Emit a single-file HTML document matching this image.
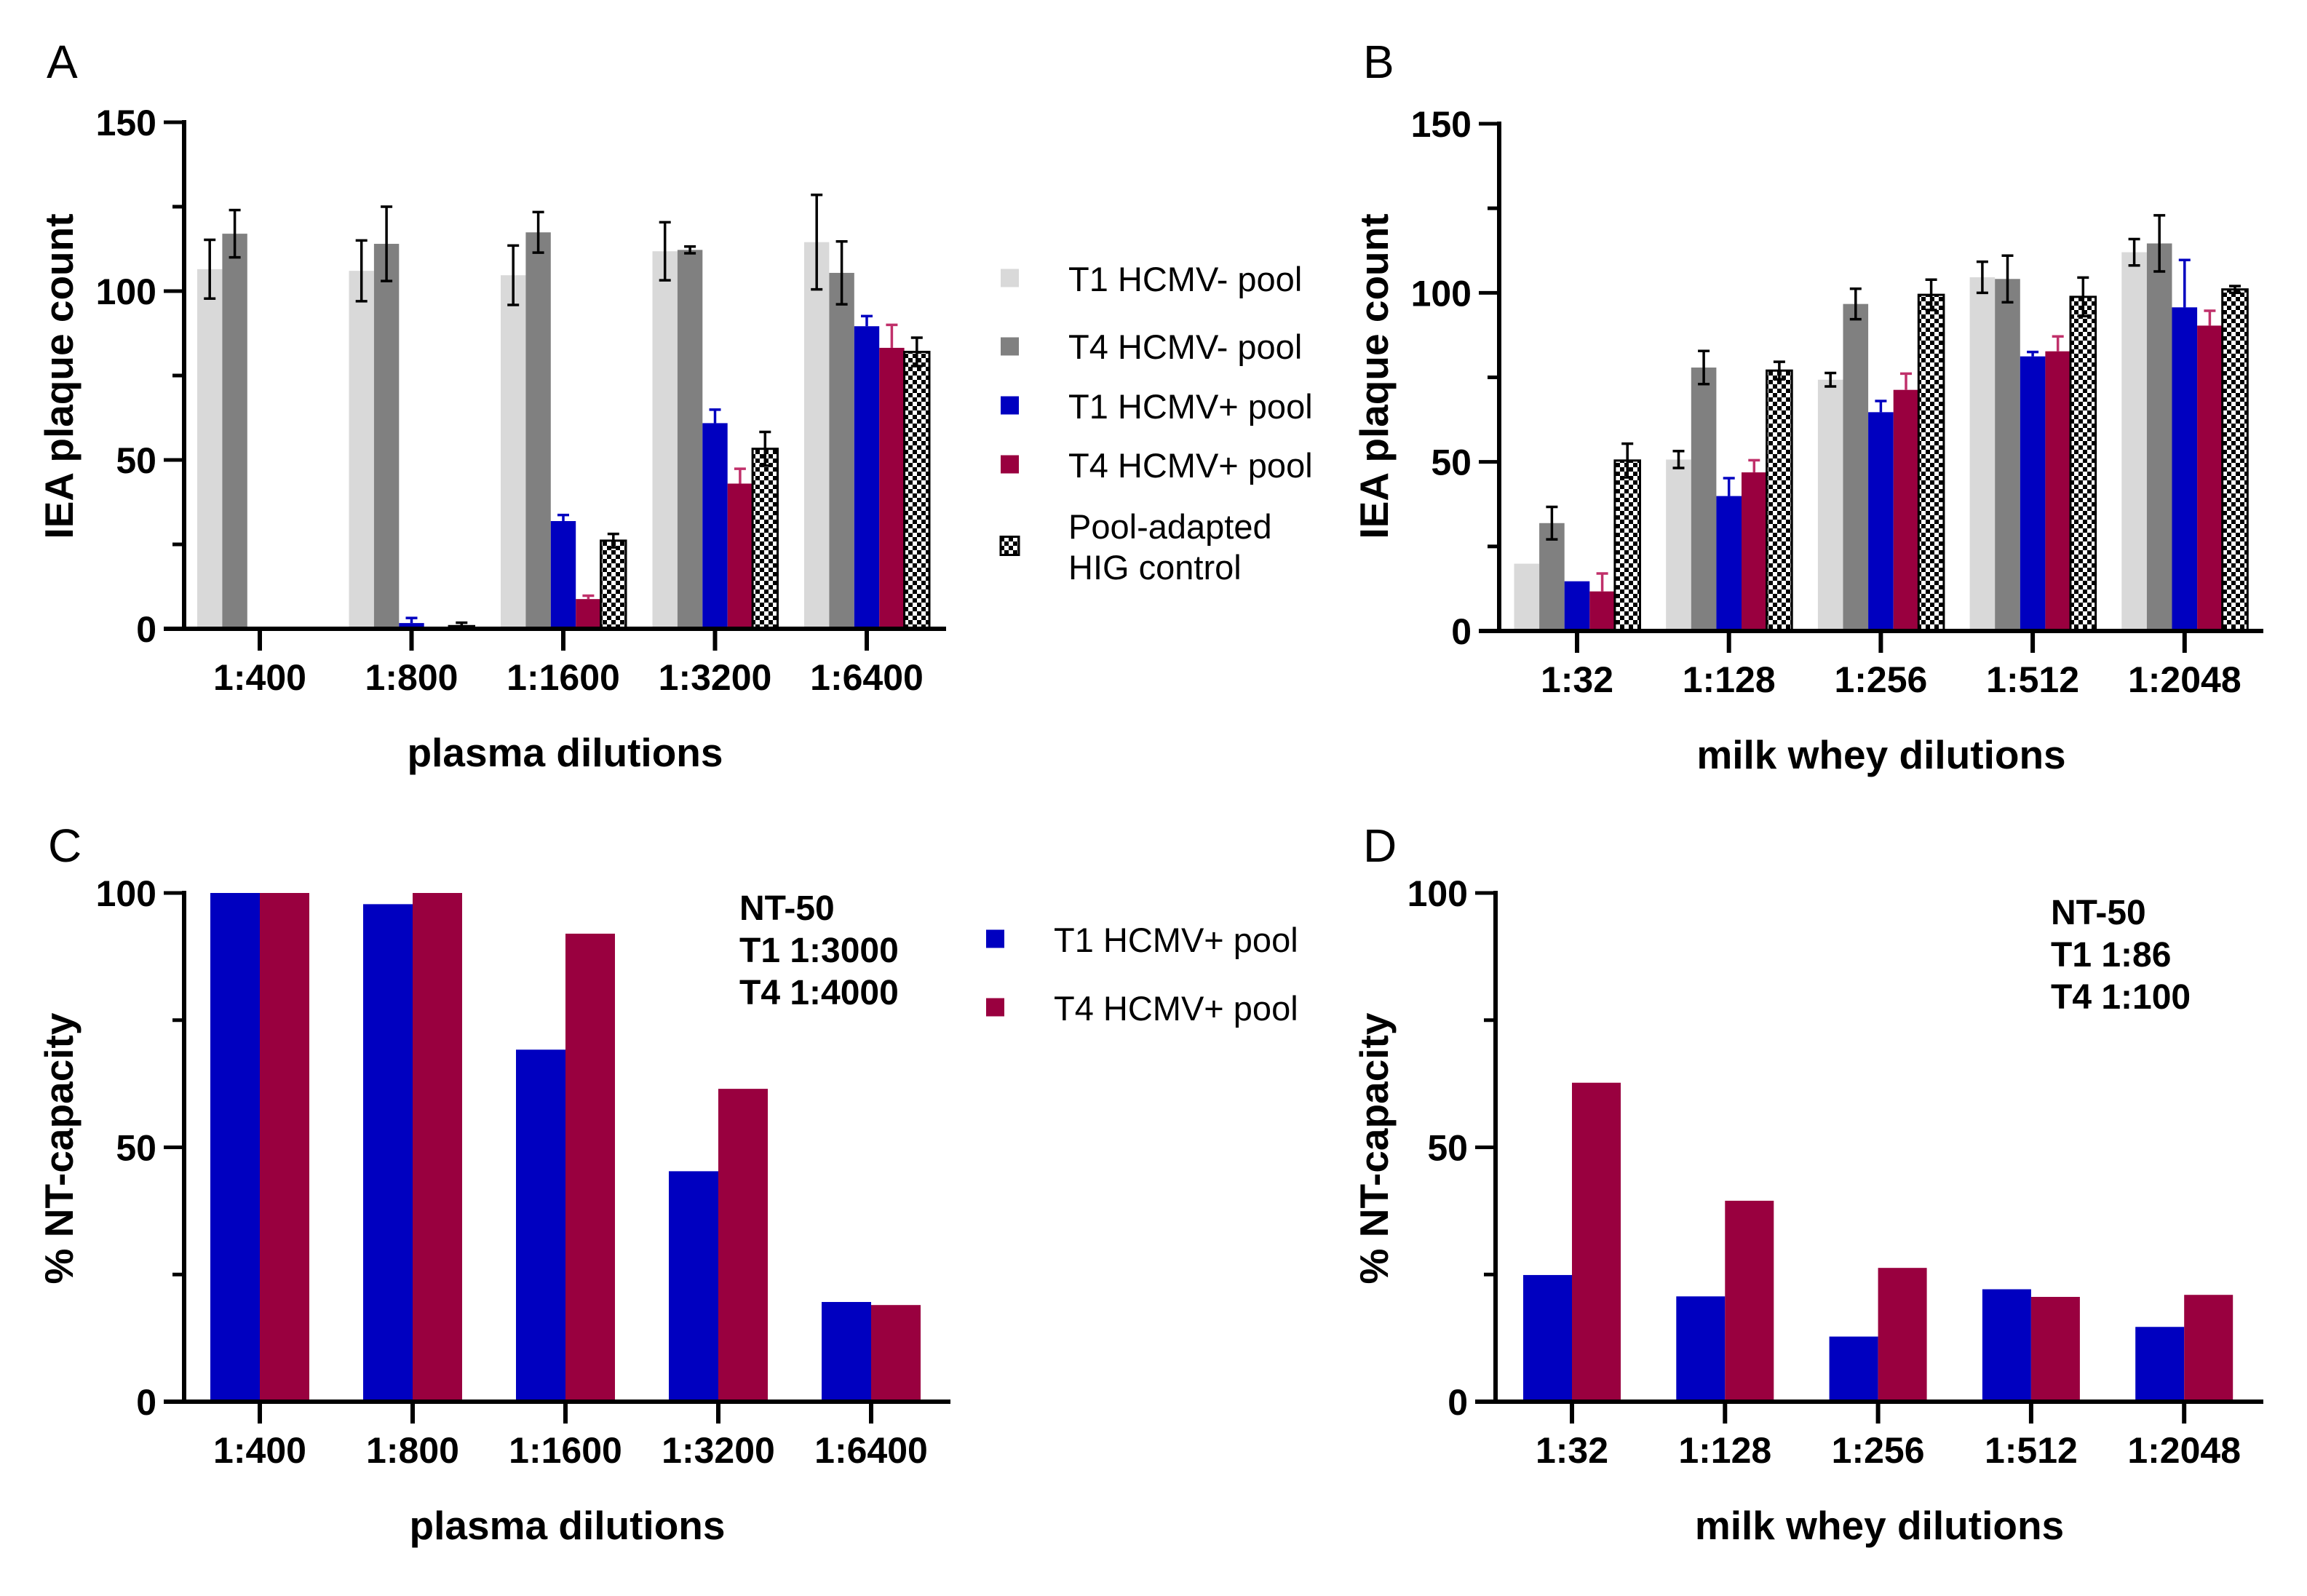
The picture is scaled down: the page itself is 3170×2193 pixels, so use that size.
<!DOCTYPE html>
<html><head><meta charset="utf-8">
<style>
html,body{margin:0;padding:0;background:#fff;}
svg{display:block;font-family:"Liberation Sans",Arial,sans-serif;}
</style></head>
<body>
<svg id="fig" width="3170" height="2193" viewBox="0 0 3170 2193" xmlns="http://www.w3.org/2000/svg">
<defs>
<pattern id="chk" patternUnits="userSpaceOnUse" width="12" height="12">
<rect width="12" height="12" fill="#fff"/>
<rect width="6" height="6" fill="#000"/>
<rect x="6" y="6" width="6" height="6" fill="#000"/>
</pattern>
</defs>
</svg>
<script>
// ---------- data ----------
const catsPlasma = ["1:400","1:800","1:1600","1:3200","1:6400"];
const catsMilk = ["1:32","1:128","1:256","1:512","1:2048"];
const seriesNames = ["T1 HCMV- pool","T4 HCMV- pool","T1 HCMV+ pool","T4 HCMV+ pool","Pool-adapted HIG control"];
// Panel A values
const aT1neg = [106.5,106,104.7,111.8,114.5];
const aT4neg = [117,114,117.4,112.2,105.4];
const aT1pos = [0,1.7,31.9,60.9,89.6];
const aT4pos = [0,0,8.8,43,83.2];
const aHIG = [0,0.8,26.1,53.3,82];
const aT1negErr = [8.7,9,8.8,8.6,14];
const aT4negErr = [7,11,6,1,9.3];
const aT1posErr = [0,1.5,1.8,4,3];
const aT4posErr = [0,0,1,4.4,6.8];
const aHIGErr = [0,1,2,5,4.2];
// Panel B values
const bT1neg = [19.9,50.7,74.3,104.6,112];
const bT4neg = [31.9,77.9,96.7,104.1,114.6];
const bT1pos = [14.7,39.9,64.7,81.2,95.7];
const bT4pos = [11.7,46.9,71.3,82.7,90.3];
const bHIG = [50.4,77,99.4,98.8,101];
const bT1negErr = [0,2.5,2,4.6,3.9];
const bT4negErr = [4.8,4.9,4.5,6.9,8.3];
const bT1posErr = [0,5.3,3.3,1.3,14];
const bT4posErr = [5.3,3.6,4.8,4.4,4.4];
const bHIGErr = [5,2.6,4.5,5.7,1];
// Panel C, D values
const cT1 = [100,97.8,69.2,45.3,19.6];
const cT4 = [100,100,92,61.5,19];
const dT1 = [24.9,20.7,12.8,22.1,14.7];
const dT4 = [62.7,39.5,26.3,20.6,21];
const ticks150 = [0,50,100,150];
const ticks100 = [0,50,100];

const NS="http://www.w3.org/2000/svg";
const svg=document.getElementById('fig');
function mk(tag,attrs,parent){const e=document.createElementNS(NS,tag);for(const k in attrs)e.setAttribute(k,attrs[k]);(parent||svg).appendChild(e);return e;}
function txt(s,attrs,parent){const e=mk('text',attrs,parent);e.textContent=s;return e;}

const COLORS=["#d9d9d9","#808080","#0000c0","#99003f","url(#chk)"];
const ERRC=["#000","#000","#0000c0","#c0306a","#000"];

function panel(o){
  const g=mk('g',{});
  
  
  const y=v=>o.y0-(v/o.ymax)*(o.y0-o.ytop);
  const x=i=>o.c0+i*o.step;
  const L=txt(o.letter,{x:o.lx,y:107,'font-size':64},g);
  if(o.ly) L.setAttribute('y',o.ly);
  
  
  const n=o.series.length;
  for(let s=0;s<n;s++){
    for(let i=0;i<o.cats.length;i++){
      const v=o.series[s][i];
      const bx=x(i)-o.bw*n/2+s*o.bw;
      if(v>0){
        const r=mk('rect',{x:bx,y:y(v),width:o.bw,height:o.y0-y(v),fill:o.colors[s]},g);
        
        
        if(o.colors[s]==='url(#chk)'){r.setAttribute('stroke','#000');r.setAttribute('stroke-width','3');}
      }
      if(o.errs){
        const e=o.errs[s][i];
        if(e>0){
          const cx=bx+o.bw/2;
          const twoSided=(s<2||s===4);
          const top=y(v+e), bot=twoSided?y(v-e):y(v);
          const eg=mk('g',{stroke:ERRC[s],'stroke-width':3.5,fill:'none'},g);
          
          
          mk('line',{x1:cx,x2:cx,y1:top,y2:bot},eg);
          mk('line',{x1:cx-8,x2:cx+8,y1:top,y2:top},eg);
          if(twoSided) mk('line',{x1:cx-8,x2:cx+8,y1:bot,y2:bot},eg);
        }
      }
    }
  }
  const ax=mk('g',{stroke:'#000','stroke-width':6},g);
  
  
  mk('line',{x1:o.ax,x2:o.ax,y1:o.ytop-3,y2:o.y0},ax);
  mk('line',{x1:o.ax-28,x2:o.xend,y1:o.y0,y2:o.y0},ax);
  for(let t=o.minor;t<=o.ymax;t+=o.minor){
    mk('line',{x1:o.ax-( o.ticks.includes(t)?28:16),x2:o.ax,y1:y(t),y2:y(t),'stroke-width':5},ax);
  }
  for(let i=0;i<o.cats.length;i++){
    mk('line',{x1:x(i),x2:x(i),y1:o.y0,y2:o.y0+30,'stroke-width':6},ax);
    const t=txt(o.cats[i],{x:x(i),y:o.y0+84,'text-anchor':'middle','font-size':50,'font-weight':'bold'},g);
    
    
  }
  for(const t of o.ticks){
    const e=txt(String(t),{x:o.ax-38,y:y(t)+18,'text-anchor':'end','font-size':50,'font-weight':'bold'},g);
    
    
  }
  const xt=txt(o.xtitle,{x:(o.ax+o.xend)/2,y:o.y0+189,'text-anchor':'middle','font-size':55,'font-weight':'bold'},g);
  
  
  const yt=txt(o.ytitle,{x:0,y:0,'text-anchor':'middle','font-size':55,'font-weight':'bold',transform:`translate(${o.ytx},${o.yty}) rotate(-90)`},g);
  
  
  if(o.note){
    o.note.forEach((s,k)=>{
      const t=txt(s,{x:o.nx,y:o.ny+k*58,'font-size':48,'font-weight':'bold'},g);
      
      
    });
  }
}

panel({name:'panel-a',letter:'A',lx:64,cats:catsPlasma,series:[aT1neg,aT4neg,aT1pos,aT4pos,aHIG],
  errs:[aT1negErr,aT4negErr,aT1posErr,aT4posErr,aHIGErr],snames:seriesNames,colors:COLORS,
  y0:864,ytop:168,ymax:150,ticks:ticks150,minor:25,ax:253,xend:1300,c0:357,step:208.5,bw:34.4,
  xtitle:'plasma dilutions',ytitle:'IEA plaque count',ytx:100,yty:517});
panel({name:'panel-b',letter:'B',lx:1873,cats:catsMilk,series:[bT1neg,bT4neg,bT1pos,bT4pos,bHIG],
  errs:[bT1negErr,bT4negErr,bT1posErr,bT4posErr,bHIGErr],snames:seriesNames,colors:COLORS,
  y0:867,ytop:170,ymax:150,ticks:ticks150,minor:25,ax:2060,xend:3110,c0:2167,step:208.7,bw:34.6,
  xtitle:'milk whey dilutions',ytitle:'IEA plaque count',ytx:1907,yty:517});
panel({name:'panel-c',letter:'C',lx:66,ly:1184,cats:catsPlasma,series:[cT1,cT4],snames:[seriesNames[2],seriesNames[3]],
  colors:["#0000c0","#99003f"],y0:1926,ytop:1227,ymax:100,ticks:ticks100,minor:25,ax:253,xend:1306,c0:357,step:210,bw:68,
  xtitle:'plasma dilutions',ytitle:'% NT-capacity',ytx:100,yty:1578,note:['NT-50','T1 1:3000','T4 1:4000'],nx:1016,ny:1264});
panel({name:'panel-d',letter:'D',lx:1873,ly:1184,cats:catsMilk,series:[dT1,dT4],snames:[seriesNames[2],seriesNames[3]],
  colors:["#0000c0","#99003f"],y0:1926,ytop:1227,ymax:100,ticks:ticks100,minor:25,ax:2055,xend:3110,c0:2160,step:210.3,bw:67,
  xtitle:'milk whey dilutions',ytitle:'% NT-capacity',ytx:1907,yty:1578,note:['NT-50','T1 1:86','T4 1:100'],nx:2818,ny:1270});

function legend(items,sqx,tx,ys,name){
  const g=mk('g',{});
  
  
  items.forEach((it,k)=>{
    const r=mk('rect',{x:sqx,y:ys[k].sq-12.5,width:25,height:25,fill:it.c},g);
    if(it.c==='url(#chk)'){r.setAttribute('stroke','#000');r.setAttribute('stroke-width','3');}
    
    
    it.lines.forEach((s,j)=>{
      const t=txt(s,{x:tx,y:ys[k].base+j*56,'font-size':47},g);
      
      
    });
  });
}
legend([{c:COLORS[0],lines:['T1 HCMV- pool']},{c:COLORS[1],lines:['T4 HCMV- pool']},{c:COLORS[2],lines:['T1 HCMV+ pool']},
  {c:COLORS[3],lines:['T4 HCMV+ pool']},{c:COLORS[4],lines:['Pool-adapted','HIG control']}],1375,1468,
  [{sq:382,base:400},{sq:476,base:493},{sq:557,base:575},{sq:638,base:656},{sq:750,base:740}],'legend-top');
legend([{c:COLORS[2],lines:['T1 HCMV+ pool']},{c:COLORS[3],lines:['T4 HCMV+ pool']}],1355,1448,
  [{sq:1290,base:1308},{sq:1384,base:1402}],'legend-bottom');
</script>
</body></html>
